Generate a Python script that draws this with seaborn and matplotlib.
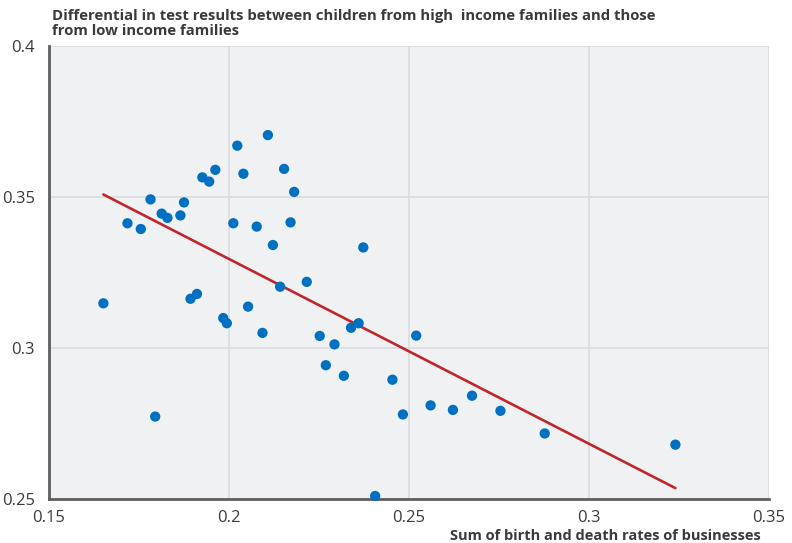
import matplotlib
matplotlib.use("Agg")
import matplotlib.pyplot as plt
import numpy as np
import pandas as pd
import seaborn as sns

# ── Data ─────────────────────────────────────────────────────────────────────
churn = [
    0.1651, 0.1718, 0.1755, 0.1782, 0.1813, 0.1829, 0.1865, 0.1875, 0.1893, 0.1911,
    0.1926, 0.1945, 0.1962, 0.1984, 0.1994, 0.2012, 0.2023, 0.2040, 0.2053, 0.2077,
    0.2093, 0.2108, 0.2122, 0.2142, 0.2153, 0.2171, 0.2181, 0.2216, 0.2252, 0.2269,
    0.2293, 0.2319, 0.2339, 0.2360, 0.2373, 0.2406, 0.2454, 0.2483, 0.2520, 0.2560,
    0.2622, 0.2675, 0.2754, 0.2877, 0.3240, 0.1795,
]
gap = [
    0.3148, 0.3413, 0.3394, 0.3492, 0.3445, 0.3431, 0.3439, 0.3482, 0.3163, 0.3179,
    0.3565, 0.3551, 0.3590, 0.3099, 0.3082, 0.3413, 0.3670, 0.3577, 0.3137, 0.3402,
    0.3050, 0.3705, 0.3341, 0.3203, 0.3593, 0.3416, 0.3517, 0.3219, 0.3040, 0.2943,
    0.3012, 0.2908, 0.3067, 0.3082, 0.3333, 0.2510, 0.2895, 0.2780, 0.3041, 0.2810,
    0.2795, 0.2842, 0.2792, 0.2717, 0.2680, 0.2773,
]
x_ticks = [0.15, 0.2, 0.25, 0.3, 0.35]
x_ticklabels = ["0.15", "0.2", "0.25", "0.3", "0.35"]
y_ticks = [0.25, 0.3, 0.35, 0.4]
y_ticklabels = ["0.25", "0.3", "0.35", "0.4"]

TITLE = ("Differential in test results between children from high  income families and those\n"
         "from low income families")
XLABEL = "Sum of birth and death rates of businesses"

df = pd.DataFrame({"churn": churn, "gap": gap})

# ── Style ────────────────────────────────────────────────────────────────────
sns.set_theme(style="white")
plt.rcParams["font.family"] = ["Open Sans", "DejaVu Sans"]

BLUE = "#0070c0"
RED = "#c0272d"
TEXT = "#3a3a3a"

fig = plt.figure(figsize=(7.92, 5.43), dpi=100)
ax = fig.add_axes([49 / 792, 44 / 543, 720 / 792, 453 / 543])
ax.set_facecolor("#f0f1f3")

sns.regplot(data=df, x="churn", y="gap", ax=ax, ci=None, scatter=False,
            line_kws={"color": RED, "linewidth": 1.9, "zorder": 3})
sns.scatterplot(data=df, x="churn", y="gap", ax=ax, color=BLUE, s=55,
                edgecolor="none", zorder=4, clip_on=False)

ax.set_xlim(0.15, 0.35)
ax.set_ylim(0.25, 0.4)
ax.set_xticks(x_ticks)
ax.set_xticklabels(x_ticklabels)
ax.set_yticks(y_ticks)
ax.set_yticklabels(y_ticklabels)
ax.tick_params(axis="both", length=0, labelsize=12, labelcolor=TEXT)
ax.tick_params(axis="x", pad=8)
ax.tick_params(axis="y", pad=10)

ax.grid(True, color="#d9dadd", linewidth=1.1)
ax.set_axisbelow(True)

for side in ["top", "right"]:
    ax.spines[side].set_visible(False)
for side in ["left", "bottom"]:
    ax.spines[side].set_color("#5f5f5f")
    ax.spines[side].set_linewidth(2.0)

ax.set_ylabel("")
ax.set_xlabel(XLABEL, fontsize=10.5, fontweight="bold", color=TEXT, ha="right")
ax.xaxis.set_label_coords(0.988, -0.066)

fig.text(52 / 792, 1 - 9 / 543, TITLE, ha="left", va="top", fontsize=10.7,
         fontweight="bold", color=TEXT, linespacing=1.12)

fig.savefig("out.png", dpi=100)
